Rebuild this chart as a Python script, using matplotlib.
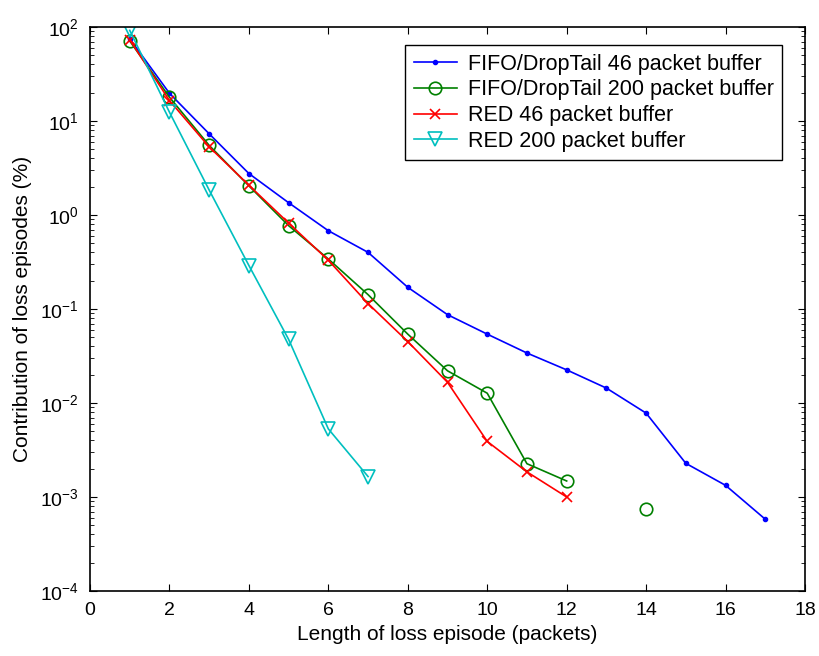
import numpy as np
import matplotlib
matplotlib.use("Agg")
import matplotlib.pyplot as plt

plt.rcParams['font.family'] = ['Liberation Sans', 'DejaVu Sans']
plt.rcParams['mathtext.fontset'] = 'custom'
plt.rcParams['mathtext.rm'] = 'Liberation Sans'

# episode lengths (packets)
x = [1, 2, 3, 4, 5, 6, 7, 8, 9, 10, 11, 12, 13, 14, 15, 16, 17]

# contribution of loss episodes (%), nan = no point
fifo_46 = [75, 19.7, 7.3, 2.76, 1.35, 0.68, 0.40, 0.17, 0.087, 0.054, 0.034,
           0.0225, 0.0144, 0.0078, 0.00228, 0.00133, 0.00058]
fifo_200 = [71, 17.9, 5.5, 2.04, 0.77, 0.34, 0.142, 0.054, 0.022, 0.0127,
            0.00226, 0.00148, np.nan, 0.00074]
red_46 = [73, 16.5, 5.3, 2.07, 0.82, 0.33, 0.114, 0.045, 0.0166, 0.0039,
          0.00185, 0.0010]
red_200 = [92, 12.4, 1.84, 0.29, 0.0475, 0.0053, 0.00165]

labels = ['FIFO/DropTail 46 packet buffer',
          'FIFO/DropTail 200 packet buffer',
          'RED 46 packet buffer',
          'RED 200 packet buffer']

fig = plt.figure(figsize=(8.19, 6.56), dpi=100)
ax = fig.add_axes([0.1099, 0.0991, 0.873, 0.8598])

ax.semilogy(x[:len(fifo_46)], fifo_46, '.-', color=(0, 0, 1), lw=1.2, ms=6,
            label=labels[0])
ax.semilogy(x[:len(fifo_200)], fifo_200, 'o-', color=(0, 0.5, 0), lw=1.2,
            ms=9, mfc='none', mew=1.2, label=labels[1])
ax.semilogy(x[:len(red_46)], red_46, 'x-', color=(1, 0, 0), lw=1.2, ms=7,
            mew=1.2, label=labels[2])
ax.semilogy(x[:len(red_200)], red_200, 'v-', color=(0, 0.75, 0.75), lw=1.2,
            ms=10, mfc='none', mew=1.2, label=labels[3])

ax.set_xlim(0, 18)
ax.set_ylim(1e-4, 1e2)
ax.set_xticks(range(0, 19, 2))
ax.tick_params(which='both', direction='in', top=True, right=True,
               labelsize=14, pad=8)
ax.tick_params(which='major', length=5)
ax.tick_params(which='minor', length=3)
for s in ax.spines.values():
    s.set_linewidth(1.2)

ax.set_xlabel('Length of loss episode (packets)', fontsize=15, labelpad=4)
ax.set_ylabel('Contribution of loss episodes (%)', fontsize=15, labelpad=6)

leg = ax.legend(loc='upper right', bbox_to_anchor=(0.968, 0.968),
                borderaxespad=0, fontsize=15.5, fancybox=False,
                edgecolor='black', framealpha=1, handlelength=2.0,
                handletextpad=0.5, borderpad=0.4, labelspacing=0.22,
                numpoints=1)
leg.get_frame().set_linewidth(1.0)

fig.savefig('out.png', dpi=100)
